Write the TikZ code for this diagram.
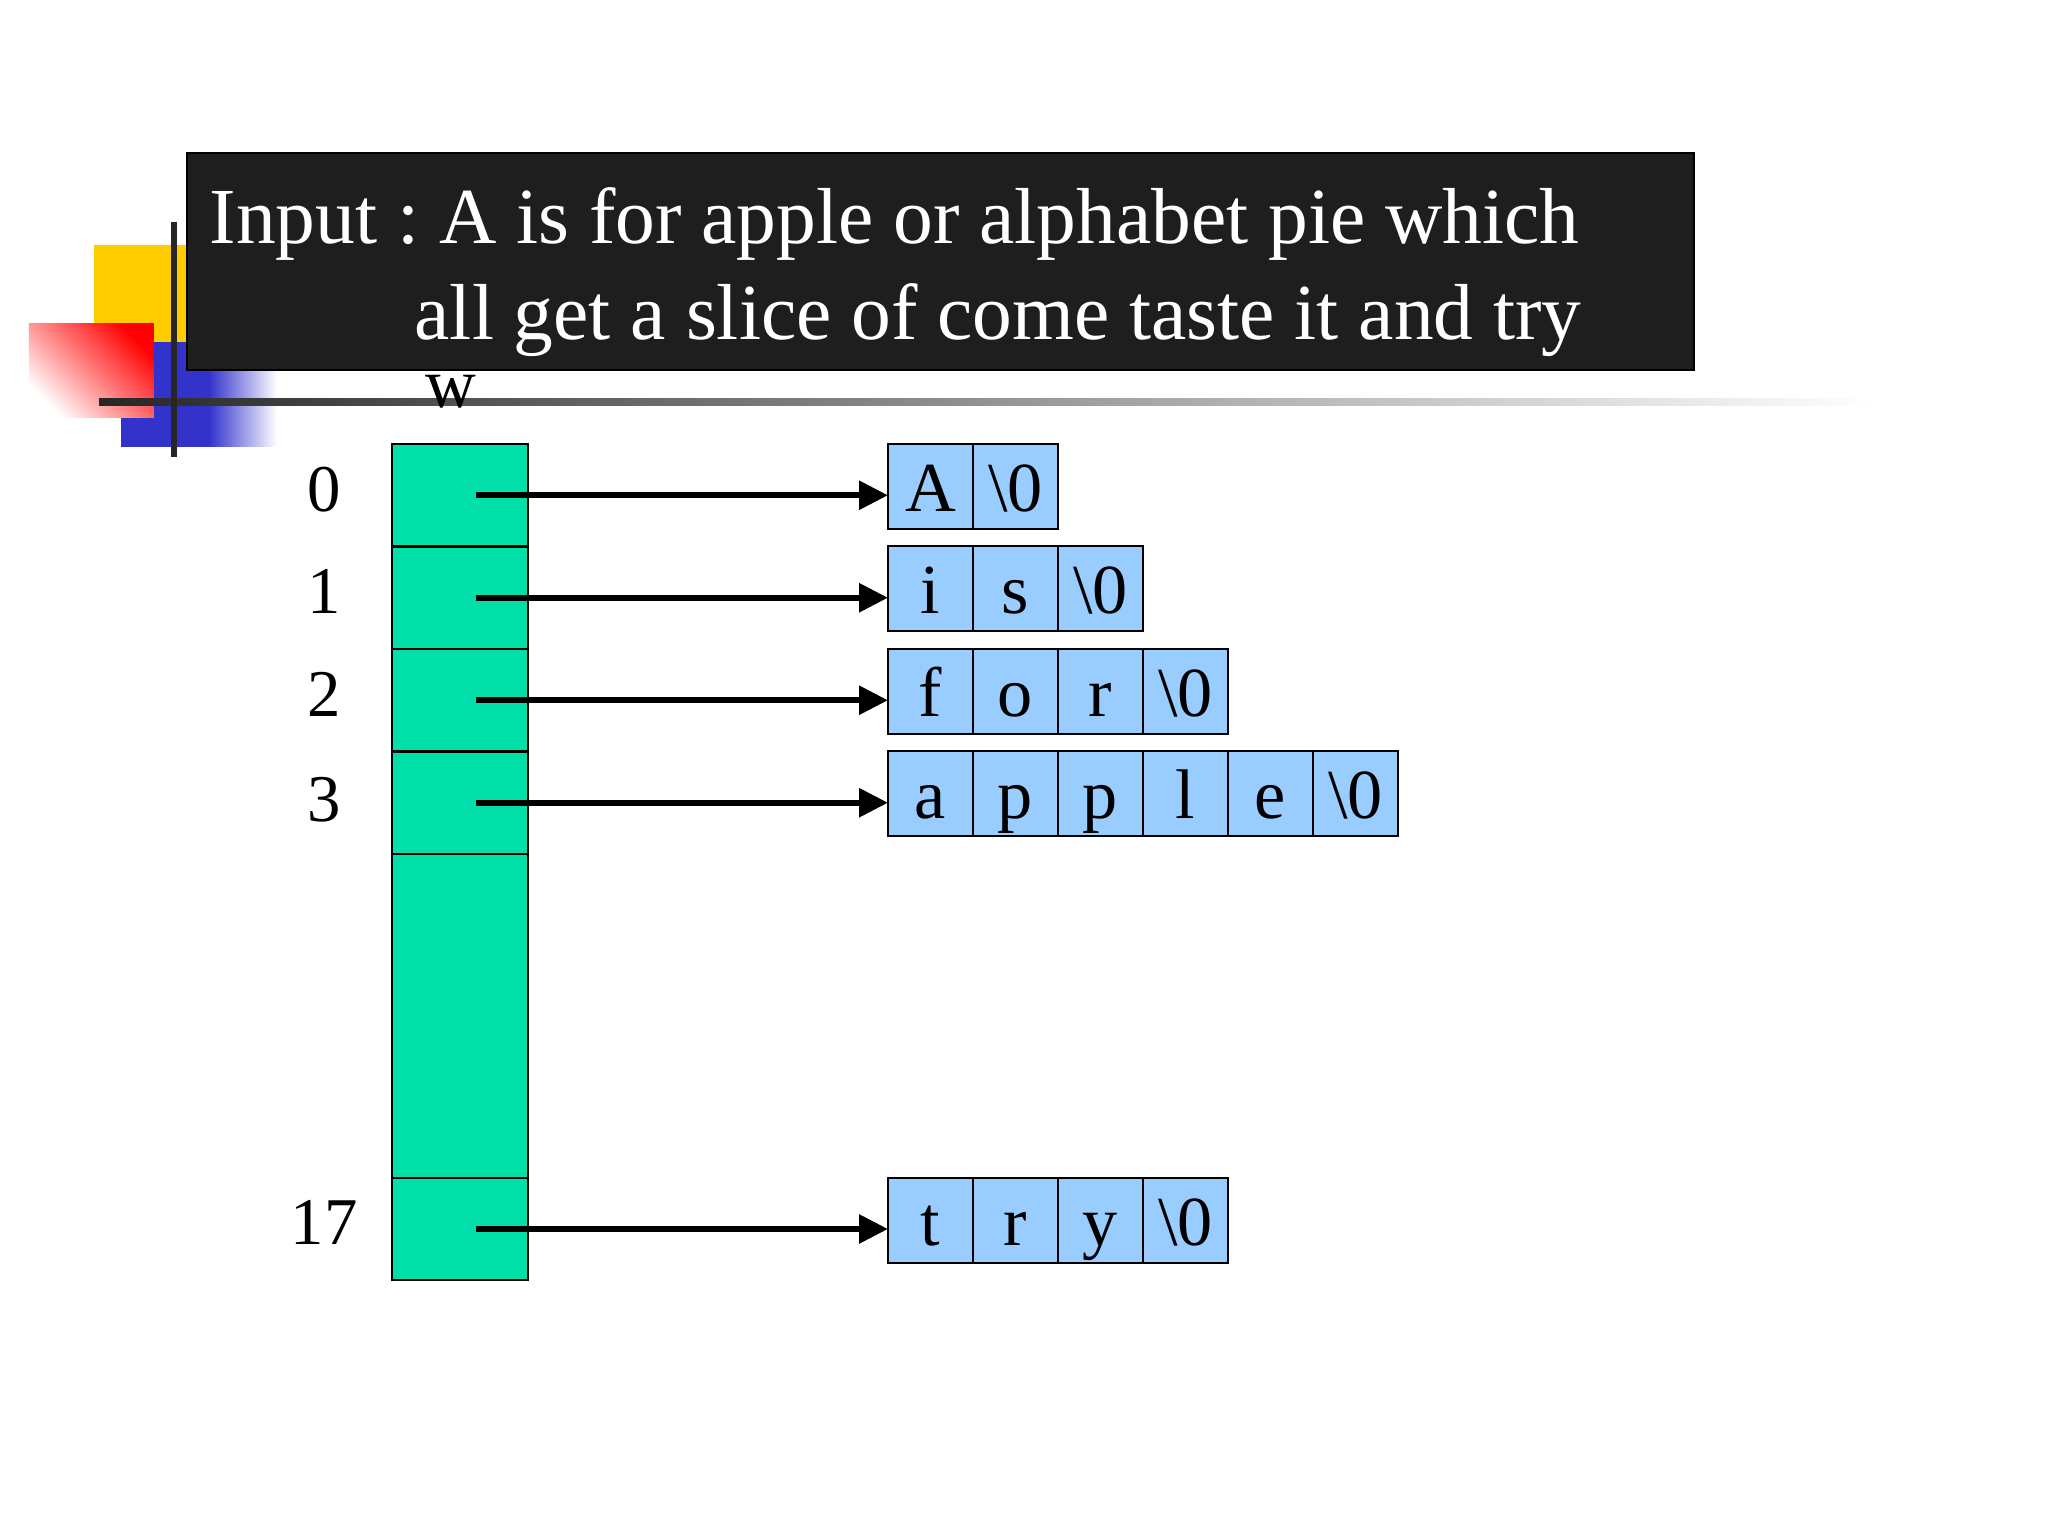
\documentclass[tikz,border=0pt]{standalone}
\usepackage{fontspec}
\setmainfont{Liberation Serif}
\usetikzlibrary{positioning,arrows.meta}
\definecolor{slotgreen}{RGB}{0,224,168}
\definecolor{cellblue}{RGB}{153,204,255}
\definecolor{tmplyellow}{RGB}{255,204,0}
\definecolor{tmplblue}{RGB}{51,51,204}
\definecolor{boxgray}{RGB}{30,30,30}
\frenchspacing
\begin{document}
\begin{tikzpicture}[
  slot/.style={draw, line width=0.7pt, fill=slotgreen, minimum width=1.36cm, inner sep=0pt, outer sep=0pt},
  cell/.style={draw, line width=0.7pt, fill=cellblue, minimum width=0.85cm, minimum height=0.85cm, inner sep=0pt, outer sep=0pt, text height=0.5cm, text depth=0pt, font=\fontsize{20}{24}\selectfont},
  idx/.style={font=\fontsize{19}{23}\selectfont, text height=0.45cm, text depth=0pt, inner sep=0pt},
  ptr/.style={line width=1.7pt, -{Triangle[length=0.29cm,width=0.28cm]}}
]
\useasboundingbox (0,0) rectangle (20.48,-15.36);
% slide corner
\fill[tmplyellow] (0.94,-2.45) rectangle (2.2,-3.42);
\fill[tmplblue] (1.21,-3.42) rectangle (2.10,-4.47);
\shade[left color=tmplblue, right color=white] (2.09,-3.42) rectangle (2.77,-4.47);
\shade[shading=axis, top color=red, bottom color=white, shading angle=-45] (0.29,-3.24) rectangle (1.54,-4.18);
\shade[left color=black!85, right color=white] (0.99,-3.99) rectangle (18.73,-4.06);
\draw[line width=1.7pt, black!85] (1.74,-2.22) -- (1.74,-4.57);
% input text
\filldraw[fill=boxgray, draw=black, line width=0.8pt] (1.87,-1.53) rectangle (16.94,-3.70);
\node[anchor=base west, text=white, font=\fontsize{22.6}{27}\selectfont, inner sep=0pt] (line1) at (2.09,-2.44) {Input : A is for apple or alphabet pie which};
\node[anchor=base west, text=white, font=\fontsize{22.6}{27}\selectfont, inner sep=0pt] (line2) at (4.14,-3.40) {all get a slice of come taste it and try};
\node[anchor=base, font=\fontsize{20}{24}\selectfont, inner sep=0pt] (wname) at (4.51,-4.08) {w};
% array w
\node[slot, minimum height=1.025cm, anchor=north] (w0) at (4.60,-4.44) {};
\node[slot, minimum height=1.025cm, below=0pt of w0] (w1) {};
\node[slot, minimum height=1.025cm, below=0pt of w1] (w2) {};
\node[slot, minimum height=1.025cm, below=0pt of w2] (w3) {};
\node[slot, minimum height=3.24cm, below=0pt of w3] (wrest) {};
\node[slot, minimum height=1.02cm, below=0pt of wrest] (w17) {};
\node[idx] (i0) at (3.24,-4.89) {0};
\node[idx] (i1) at (3.24,-5.91) {1};
\node[idx] (i2) at (3.24,-6.94) {2};
\node[idx] (i3) at (3.24,-7.99) {3};
\node[idx] (i17) at (3.24,-12.22) {17};
% strings
\node[cell] (a0) at (9.305,-4.865) {A};
\node[cell, right=0pt of a0] (a1) {\textbackslash 0};
\node[cell] (b0) at (9.305,-5.885) {i};
\node[cell, right=0pt of b0] (b1) {s};
\node[cell, right=0pt of b1] (b2) {\textbackslash 0};
\node[cell] (c0) at (9.305,-6.915) {f};
\node[cell, right=0pt of c0] (c1) {o};
\node[cell, right=0pt of c1] (c2) {r};
\node[cell, right=0pt of c2] (c3) {\textbackslash 0};
\node[cell] (d0) at (9.305,-7.935) {a};
\node[cell, right=0pt of d0] (d1) {p};
\node[cell, right=0pt of d1] (d2) {p};
\node[cell, right=0pt of d2] (d3) {l};
\node[cell, right=0pt of d3] (d4) {e};
\node[cell, right=0pt of d4] (d5) {\textbackslash 0};
\node[cell] (e0) at (9.305,-12.205) {t};
\node[cell, right=0pt of e0] (e1) {r};
\node[cell, right=0pt of e1] (e2) {y};
\node[cell, right=0pt of e2] (e3) {\textbackslash 0};
% pointers
\coordinate[xshift=0.16cm] (p0) at (w0.center);
\coordinate[xshift=0.16cm] (p1) at (w1.center);
\coordinate[xshift=0.16cm] (p2) at (w2.center);
\coordinate[xshift=0.16cm] (p3) at (w3.center);
\coordinate[xshift=0.16cm] (p17) at (w17.center);
\draw[ptr] (p0) -- (p0 -| a0.west);
\draw[ptr] (p1) -- (p1 -| b0.west);
\draw[ptr] (p2) -- (p2 -| c0.west);
\draw[ptr] (p3) -- (p3 -| d0.west);
\draw[ptr] (p17) -- (p17 -| e0.west);
\end{tikzpicture}
\end{document}
